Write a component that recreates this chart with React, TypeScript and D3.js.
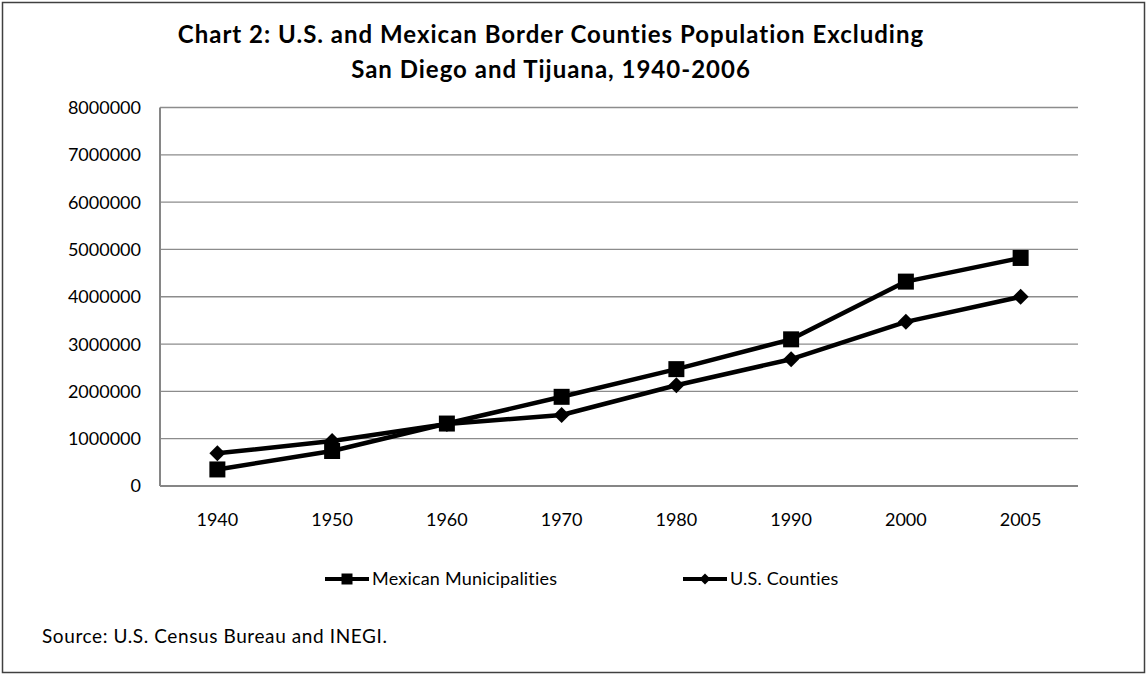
import React from "react";
import * as d3 from "d3";

// Census years along the category axis
const years: string[] = ["1940", "1950", "1960", "1970", "1980", "1990", "2000", "2005"];

// Population of the border municipalities / counties (San Diego and Tijuana excluded)
const mexicanMunicipalities: number[] = [350000, 740000, 1320000, 1885000, 2470000, 3100000, 4320000, 4820000];
const usCounties: number[] = [690000, 950000, 1310000, 1500000, 2130000, 2680000, 3470000, 4000000];

const yTicks: number[] = [0, 1000000, 2000000, 3000000, 4000000, 5000000, 6000000, 7000000, 8000000];

const titleLines: string[] = [
  "Chart 2: U.S. and Mexican Border Counties Population Excluding",
  "San Diego and Tijuana, 1940-2006",
];
const seriesNames: string[] = ["Mexican Municipalities", "U.S. Counties"];
const sourceNote = "Source: U.S. Census Bureau and INEGI.";

const W = 1146;
const H = 674;
const plot = { left: 160, right: 1078, top: 107.5, bottom: 486 };
const FONT = "Lato, 'Open Sans', sans-serif";

function squarePath(size: number) {
  return d3.symbol(d3.symbolSquare, size * size)() as string;
}

function diamondPath(size: number) {
  const h = size / 2;
  return `M0,${-h}L${h},0L0,${h}L${-h},0Z`;
}

export default function App() {
  const x = d3
    .scaleBand<string>()
    .domain(years)
    .range([plot.left, plot.right]);
  const y = d3.scaleLinear().domain([0, 8000000]).range([plot.bottom, plot.top]);
  const cx = (yr: string) => (x(yr) as number) + x.bandwidth() / 2;

  const line = d3
    .line<number>()
    .x((_, i) => cx(years[i]))
    .y((v) => y(v));

  const series = [
    { name: seriesNames[0], values: mexicanMunicipalities, marker: squarePath(16), legendMarker: squarePath(11) },
    { name: seriesNames[1], values: usCounties, marker: diamondPath(16), legendMarker: diamondPath(11) },
  ];

  const legendX = [325, 683];
  const legendY = 579;

  return (
    <svg
      width={W}
      height={H}
      style={{ position: "absolute", left: 0, top: 0, background: "#fff" }}
      fontFamily={FONT}
    >
      <rect x={2.5} y={2.5} width={W - 4} height={H - 4} fill="#fff" stroke="#404040" strokeWidth={1.5} />

      {titleLines.map((t, i) => (
        <text
          key={t}
          x={551}
          y={43 + i * 35}
          textAnchor="middle"
          fontSize={24}
          letterSpacing={1}
          fontWeight="bold"
          fill="#000"
        >
          {t}
        </text>
      ))}

      {/* gridlines */}
      {yTicks.map((t) => (
        <line
          key={t}
          x1={plot.left}
          x2={plot.right}
          y1={y(t)}
          y2={y(t)}
          stroke="#8c8c8c"
          strokeWidth={1.3}
        />
      ))}
      {/* axes */}
      <line x1={plot.left} x2={plot.left} y1={plot.top} y2={plot.bottom} stroke="#868686" strokeWidth={2} />
      <line x1={plot.left} x2={plot.right} y1={plot.bottom} y2={plot.bottom} stroke="#868686" strokeWidth={2} />

      {yTicks.map((t) => (
        <text key={t} x={141} y={y(t)} dy="0.36em" textAnchor="end" fontSize={18} fill="#000">
          {String(t)}
        </text>
      ))}
      {years.map((yr) => (
        <text key={yr} x={cx(yr)} y={526} textAnchor="middle" fontSize={18} fill="#000">
          {yr}
        </text>
      ))}

      {series.map((s) => (
        <g key={s.name}>
          <path d={line(s.values) as string} fill="none" stroke="#000" strokeWidth={4.5} strokeLinejoin="round" />
          {s.values.map((v, i) => (
            <path key={i} d={s.marker} transform={`translate(${cx(years[i])},${y(v)})`} fill="#000" />
          ))}
        </g>
      ))}

      {series.map((s, i) => (
        <g key={s.name} transform={`translate(${legendX[i]},${legendY})`}>
          <line x1={0} x2={44} y1={0} y2={0} stroke="#000" strokeWidth={4} />
          <path d={s.legendMarker} transform="translate(22,0)" fill="#000" />
          <text x={47} y={0} dy="0.36em" fontSize={18} letterSpacing={0.2} fill="#000">
            {s.name}
          </text>
        </g>
      ))}

      <text x={42} y={643} fontSize={19} letterSpacing={0.6} fill="#000">
        {sourceNote}
      </text>
    </svg>
  );
}
